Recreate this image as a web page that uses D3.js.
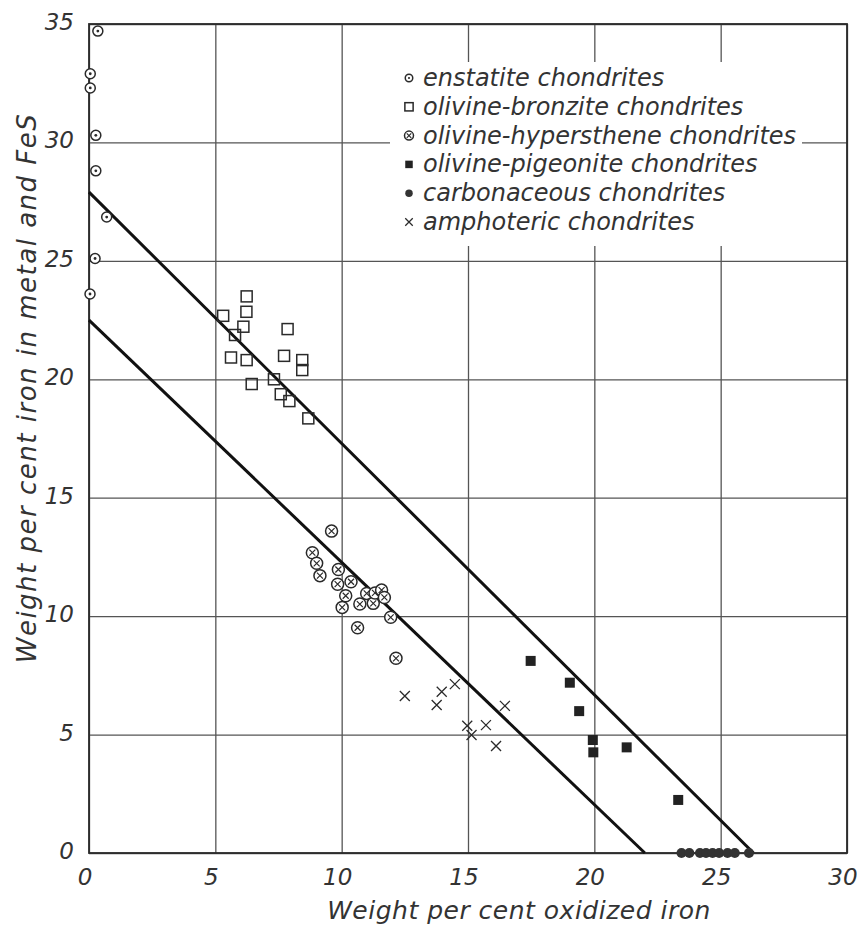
<!DOCTYPE html>
<html>
<head>
<meta charset="utf-8">
<script src="https://cdn.jsdelivr.net/npm/d3@7"></script>
<style>
  body { margin: 0; background: #fff; }
  text { font-family: "DejaVu Sans", "Liberation Sans", sans-serif; font-style: italic; fill: #333; }
</style>
</head>
<body>
<div id="chart"></div>
<script>
const margin = { top: 24, right: 10, bottom: 78, left: 89 },
  plotW = 758,
  plotH = 829,
  ink = "#2a2a2a"

// enstatite chondrites [oxidized Fe, Fe in metal+FeS]
const enstatite = [[0.35, 34.7], [0.05, 32.9], [0.05, 32.3], [0.27, 30.3], [0.27, 28.8], [0.7, 26.85], [0.24, 25.1], [0.04, 23.6]]
const bronzite = [[6.24, 23.5], [6.23, 22.85], [5.31, 22.68], [6.11, 22.22], [7.86, 22.12], [5.78, 21.87], [5.62, 20.92],
  [6.24, 20.81], [7.72, 20.99], [8.44, 20.81], [8.44, 20.39], [6.44, 19.8], [7.32, 20.0], [7.59, 19.37], [7.93, 19.08], [8.68, 18.35]]
const hypersthene = [[9.6, 13.59], [8.84, 12.68], [9.01, 12.23], [9.14, 11.71], [9.87, 11.97], [9.84, 11.35], [10.37, 11.45],
  [10.16, 10.86], [10.02, 10.37], [10.72, 10.51], [10.99, 10.96], [11.25, 10.54], [11.32, 10.98], [11.58, 11.1], [11.69, 10.79],
  [11.94, 9.95], [10.63, 9.51], [12.15, 8.22]]
const pigeonite = [[17.48, 8.11], [19.03, 7.19], [19.4, 5.99], [19.94, 4.77], [19.96, 4.25], [21.28, 4.46], [23.32, 2.24]]
const carbonaceous = [[23.45, 0], [23.76, 0], [24.18, 0], [24.42, 0], [24.68, 0], [24.94, 0], [25.27, 0], [25.56, 0], [26.12, 0]]
const amphoteric = [[12.5, 6.63], [13.96, 6.81], [14.48, 7.13], [13.76, 6.25], [16.46, 6.21], [14.97, 5.37], [15.71, 5.4], [15.14, 4.98], [16.11, 4.52]]

// the two reference lines
const upperLine = [[0, 27.9], [26.3, 0]]
const lowerLine = [[0, 22.5], [22.0, 0]]

const xTicks = [0, 5, 10, 15, 20, 25, 30]
const yTicks = [0, 5, 10, 15, 20, 25, 30, 35]
const legendLabels = ["enstatite chondrites", "olivine-bronzite chondrites", "olivine-hypersthene chondrites",
  "olivine-pigeonite chondrites", "carbonaceous chondrites", "amphoteric chondrites"]
const legendKinds = ["dot", "square", "otimes", "fsquare", "fcircle", "cross"]

const x = d3.scaleLinear().domain([0, 30]).range([0, plotW])
const y = d3.scaleLinear().domain([0, 35]).range([plotH, 0])

const svg = d3.select("#chart").append("svg")
  .attr("width", 857).attr("height", 931)

const g = svg.append("g")
  .attr("transform", "translate(" + margin.left + "," + margin.top + ")")

// grid from the axis generators, labels drawn by hand below
g.append("g")
  .attr("transform", "translate(0," + plotH + ")")
  .call(d3.axisBottom(x).tickValues(xTicks).tickSize(-plotH).tickFormat(""))
  .call(a => a.select(".domain").remove())
  .selectAll("line").attr("stroke", "#555").attr("stroke-width", 1.3)

g.append("g")
  .call(d3.axisLeft(y).tickValues(yTicks).tickSize(-plotW).tickFormat(""))
  .call(a => a.select(".domain").remove())
  .selectAll("line").attr("stroke", "#555").attr("stroke-width", 1.3)

g.append("rect")
  .attr("width", plotW).attr("height", plotH)
  .attr("fill", "none").attr("stroke", ink).attr("stroke-width", 1.8)

// tick labels
g.selectAll(".xl").data(xTicks).enter().append("text")
  .attr("x", d => x(d) - 4)
  .attr("y", plotH + 32)
  .attr("text-anchor", "middle")
  .attr("font-size", "23px")
  .text(d => d)

g.selectAll(".yl").data(yTicks).enter().append("text")
  .attr("x", -15)
  .attr("y", d => y(d) + 6)
  .attr("text-anchor", "end")
  .attr("font-size", "23px")
  .text(d => d)

// axis titles
svg.append("text")
  .attr("x", 519).attr("y", 919)
  .attr("text-anchor", "middle")
  .attr("font-size", "25px")
  .attr("letter-spacing", "0.5px")
  .text("Weight per cent oxidized iron")

svg.append("text")
  .attr("transform", "translate(36,388) rotate(-90)")
  .attr("text-anchor", "middle")
  .attr("font-size", "26px")
  .attr("letter-spacing", "1.5px")
  .text("Weight per cent iron in metal and FeS")

// reference lines
const line = d3.line().x(d => x(d[0])).y(d => y(d[1]))
;[upperLine, lowerLine].forEach(l => {
  g.append("path").attr("d", line(l))
    .attr("fill", "none").attr("stroke", "#111").attr("stroke-width", 3)
})

// marker drawing
function marker(sel, kind, s) {
  if (kind === "dot") {
    sel.append("circle").attr("r", 5 * s).attr("fill", "#fff").attr("stroke", ink).attr("stroke-width", 1.5)
    sel.append("circle").attr("r", 1.4 * s).attr("fill", ink)
  } else if (kind === "square") {
    sel.append("rect").attr("x", -5.5 * s).attr("y", -5.5 * s).attr("width", 11 * s).attr("height", 11 * s)
      .attr("fill", "none").attr("stroke", ink).attr("stroke-width", 1.5)
  } else if (kind === "otimes") {
    sel.append("circle").attr("r", 6 * s).attr("fill", "#fff").attr("stroke", ink).attr("stroke-width", 1.5)
    sel.append("path").attr("d", "M" + (-3 * s) + "," + (-3 * s) + "L" + (3 * s) + "," + (3 * s) + "M" + (3 * s) + "," + (-3 * s) + "L" + (-3 * s) + "," + (3 * s))
      .attr("stroke", ink).attr("stroke-width", 1.2)
  } else if (kind === "fsquare") {
    sel.append("rect").attr("x", -5 * s).attr("y", -5 * s).attr("width", 10 * s).attr("height", 10 * s)
      .attr("fill", "#222")
  } else if (kind === "fcircle") {
    sel.append("circle").attr("r", 5 * s).attr("fill", "#333")
  } else if (kind === "cross") {
    sel.append("path").attr("d", "M" + (-5 * s) + "," + (-5 * s) + "L" + (5 * s) + "," + (5 * s) + "M" + (5 * s) + "," + (-5 * s) + "L" + (-5 * s) + "," + (5 * s))
      .attr("stroke", ink).attr("stroke-width", 1.3)
  }
}

const groups = [[enstatite, "dot"], [bronzite, "square"], [hypersthene, "otimes"],
  [pigeonite, "fsquare"], [carbonaceous, "fcircle"], [amphoteric, "cross"]]

groups.forEach(([data, kind]) => {
  g.selectAll(null).data(data).enter().append("g")
    .attr("transform", d => "translate(" + x(d[0]) + "," + y(d[1]) + ")")
    .each(function () { marker(d3.select(this), kind, 1) })
})

// legend on a white patch hiding the grid
svg.append("rect")
  .attr("x", 390).attr("y", 62).attr("width", 412).attr("height", 184)
  .attr("fill", "#fff")

const leg = svg.selectAll(".leg").data(legendLabels).enter().append("g")
  .attr("transform", (d, i) => "translate(409," + (78 + i * 28.8) + ")")

leg.each(function (d, i) { marker(d3.select(this), legendKinds[i], 0.75) })

leg.append("text")
  .attr("x", 14).attr("y", 8)
  .attr("font-size", "24px")
  .text(d => d)
</script>
</body>
</html>
